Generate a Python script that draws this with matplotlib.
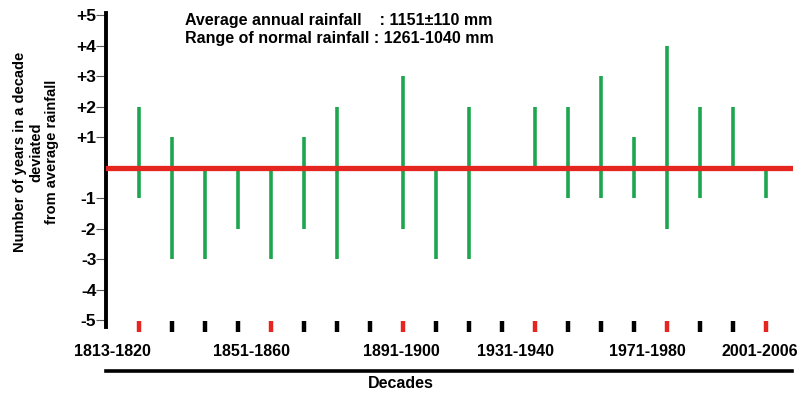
import matplotlib
matplotlib.use("Agg")
import matplotlib.pyplot as plt

plt.rcParams['font.family'] = ['Liberation Sans', 'DejaVu Sans']
plt.rcParams['font.weight'] = 'bold'

# Decades (index positions) and years above/below average per decade
decades = ["1813-1820", "1821-1830", "1831-1840", "1841-1850", "1851-1860",
           "1861-1870", "1871-1880", "1881-1890", "1891-1900", "1901-1910",
           "1911-1920", "1921-1930", "1931-1940", "1941-1950", "1951-1960",
           "1961-1970", "1971-1980", "1981-1990", "1991-2000", "2001-2006"]
above = [2, 1, 0, 0, 0, 1, 2, 0, 3, 0, 2, 0, 2, 2, 3, 1, 4, 2, 2, 0]
below = [-1, -3, -3, -2, -3, -2, -3, 0, -2, -3, -3, 0, 0, -1, -1, -1, -2, -1, 0, -1]
labelled = [0, 4, 8, 12, 16, 19]
ytick_vals = [5, 4, 3, 2, 1, -1, -2, -3, -4, -5]
ytick_labels = ["+5", "+4", "+3", "+2", "+1", "-1", "-2", "-3", "-4", "-5"]

# label text sits a little left of its mark in the original
label_shift = [-0.82, -0.58, -0.06, -0.58, -0.58, -0.18]

green = "#1ea64f"
red = "#e5251f"

W, H = 802, 394
fig = plt.figure(figsize=(W / 100, H / 100), dpi=100)
ax = fig.add_axes([106 / W, 1 - 327 / H, (793 - 106) / W, (327 - 13) / H])

x = list(range(len(decades)))

# deviation bars
for xi, hi, lo in zip(x, above, below):
    if hi != lo:
        ax.vlines(xi, lo, hi, color=green, lw=2.6, zorder=2)

ax.axhline(0, color=red, lw=3.8, zorder=3)

# small decade marks at the bottom
mark_colors = [red if i in labelled else "black" for i in x]
ax.scatter(x, [-5.22] * len(x), marker='|', s=60, linewidths=3.2,
           c=mark_colors, clip_on=False, zorder=4)

ax.set_xlim(-1.0, 19.82)
ax.set_ylim(-5.23, 5.07)

for s in ["top", "right", "bottom"]:
    ax.spines[s].set_visible(False)
ax.spines["left"].set_linewidth(2.8)

ax.set_yticks(ytick_vals)
ax.set_yticklabels(ytick_labels, fontsize=12.5, fontweight='bold')
ax.tick_params(axis='y', length=7, width=0.8, color='#555555', pad=0)

ax.set_xticks([i + d for i, d in zip(labelled, label_shift)])
ax.set_xticklabels([decades[i] for i in labelled], fontsize=11.5, fontweight='bold')
ax.tick_params(axis='x', length=0, pad=12)

# bottom rule under the decade labels
ax.plot([-1.0, 19.78], [-0.14, -0.14], color="black", lw=2.6,
        transform=ax.get_xaxis_transform(), clip_on=False)

fig.text(401 / W, 1 - 384 / H, "Decades", ha='center', va='center',
         fontsize=11.5, fontweight='bold')

fig.text(36 / W, 1 - 152 / H,
         "Number of years in a decade\ndeviated\nfrom average rainfall",
         rotation=90, ha='center', va='center', multialignment='center',
         fontsize=10.5, fontweight='bold', linespacing=1.2)

fig.text(185 / W, 1 - 21 / H, "Average annual rainfall    : 1151\u00b1110 mm",
         ha='left', va='center', fontsize=11.5, fontweight='bold')
fig.text(185 / W, 1 - 39 / H, "Range of normal rainfall : 1261-1040 mm",
         ha='left', va='center', fontsize=11.5, fontweight='bold')

fig.savefig("out.png", dpi=100)
